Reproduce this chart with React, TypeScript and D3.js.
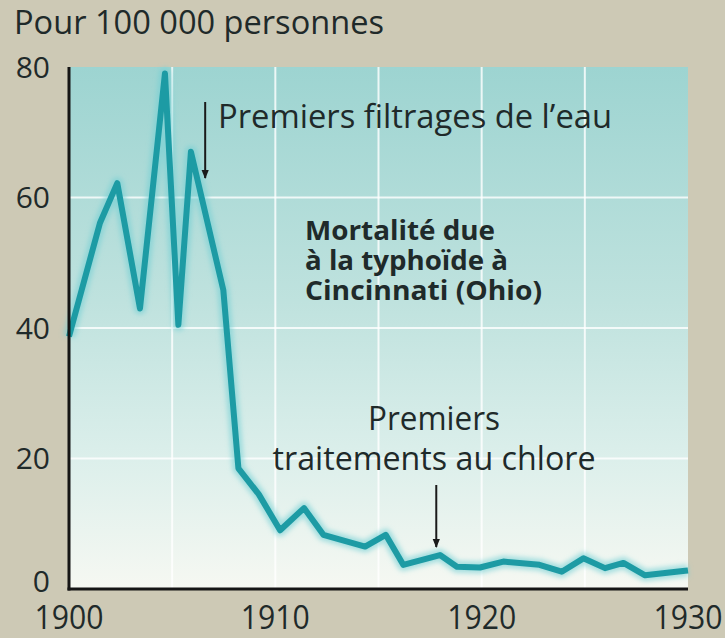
import React, { useEffect } from "react";
import * as d3 from "d3";

const years = [1900, 1901.5, 1902.34, 1903.44, 1904.65, 1905.3, 1905.91, 1907.48, 1908.21, 1909.2, 1910.23, 1911.39, 1912.33, 1914.35, 1915.35, 1916.2, 1917.98, 1918.8, 1919.92, 1921.05, 1922.8, 1923.88, 1924.93, 1925.98, 1926.87, 1927.92, 1929.86, 1930];
const mortality = [38.7, 56.1, 62.2, 43.0, 79.0, 40.5, 67.0, 45.8, 18.5, 14.5, 9.0, 12.4, 8.3, 6.5, 8.3, 3.7, 5.2, 3.4, 3.3, 4.2, 3.7, 2.65, 4.7, 3.2, 4.0, 2.1, 2.8, 2.85];
const yTicks = [0, 20, 40, 60, 80];
const xTicks = [1900, 1910, 1920, 1930];
const xGrid = [1905, 1910, 1915, 1920, 1925];
const yGrid = [20, 40, 60];
const unitLabel = "Pour 100 000 personnes";
const titleLines = ["Mortalité due", "à la typhoïde à", "Cincinnati (Ohio)"];
const filtrageLabel = "Premiers filtrages de l’eau";
const filtrageYear = 1906.6;
const chloreLines = ["Premiers", "traitements au chlore"];
const chloreYear = 1917.8;

const W = 725;
const H = 638;
const FONT = "'Open Sans', 'Noto Sans', sans-serif";
const TEXT = "#1f2a2a";

export default function App() {
  useEffect(() => {
    document.body.style.margin = "0";
  }, []);

  const x = d3.scaleLinear().domain([1900, 1930]).range([69, 688]);
  const y = d3.scaleLinear().domain([0, 80]).range([589, 67]);
  const pts = years.map((yr, i) => [yr, mortality[i]] as [number, number]);
  const line = d3
    .line<[number, number]>()
    .x((d) => x(d[0]))
    .y((d) => y(d[1]));
  const path = line(pts) || "";

  const ax1 = x(filtrageYear);
  const ax2 = x(chloreYear);

  return (
    <svg
      width={W}
      height={H}
      style={{ position: "absolute", left: 0, top: 0, display: "block" }}
    >
      <defs>
        <linearGradient id="plotBg" x1="0" y1="0" x2="0" y2="1">
          <stop offset="0%" stopColor="#9dd4d1" />
          <stop offset="45%" stopColor="#bfe2de" />
          <stop offset="75%" stopColor="#dcefeb" />
          <stop offset="100%" stopColor="#f6f8f2" />
        </linearGradient>
        <filter id="glow" x="-10%" y="-10%" width="120%" height="120%">
          <feGaussianBlur stdDeviation="2.5" />
        </filter>
        <marker
          id="arrow"
          viewBox="0 0 10 10"
          refX="9"
          refY="5"
          markerWidth="5"
          markerHeight="4.5"
          orient="auto"
          markerUnits="strokeWidth"
        >
          <path d="M0,1 L10,5 L0,9 Z" fill="#1a1a1a" />
        </marker>
      </defs>
      <rect x={0} y={0} width={W} height={H} fill="#cdc9b5" />
      <rect
        x={x(1900)}
        y={y(80)}
        width={x(1930) - x(1900)}
        height={y(0) - y(80)}
        fill="url(#plotBg)"
      />
      {xGrid.map((g) => (
        <line
          key={"xg" + g}
          x1={x(g)}
          x2={x(g)}
          y1={y(80)}
          y2={y(0)}
          stroke="#ffffff"
          strokeOpacity={0.8}
          strokeWidth={2}
        />
      ))}
      {yGrid.map((g) => (
        <line
          key={"yg" + g}
          x1={x(1900)}
          x2={x(1930)}
          y1={y(g)}
          y2={y(g)}
          stroke="#ffffff"
          strokeOpacity={0.8}
          strokeWidth={2}
        />
      ))}

      <path
        d={path}
        fill="none"
        stroke="#6fcfd3"
        strokeWidth={12}
        strokeOpacity={0.6}
        strokeLinejoin="round"
        filter="url(#glow)"
      />
      <path
        d={path}
        fill="none"
        stroke="#1d9ba4"
        strokeWidth={6}
        strokeLinejoin="round"
        strokeLinecap="butt"
      />

      <line x1={x(1900)} x2={x(1900)} y1={y(80)} y2={y(0) + 1.5} stroke="#151515" strokeWidth={3} />
      <line x1={x(1900) - 1.5} x2={x(1930)} y1={y(0)} y2={y(0)} stroke="#151515" strokeWidth={3} />

      {yTicks.map((t) => (
        <text
          key={"yt" + t}
          x={50}
          y={y(t) + (t === 0 ? -8 : 0)}
          dy="0.36em"
          textAnchor="end"
          fontFamily={FONT}
          fontSize={30}
          fill={TEXT}
        >
          {t}
        </text>
      ))}
      {xTicks.map((t) => (
        <text
          key={"xt" + t}
          x={x(t)}
          y={629}
          textAnchor="middle"
          fontFamily={FONT}
          fontSize={33}
          fill={TEXT}
          textLength={69}
          lengthAdjust="spacingAndGlyphs"
        >
          {t}
        </text>
      ))}

      <text
        x={14}
        y={34}
        fontFamily={FONT}
        fontSize={32}
        fill={TEXT}
        textLength={370}
        lengthAdjust="spacingAndGlyphs"
      >
        {unitLabel}
      </text>

      <line
        x1={ax1}
        x2={ax1}
        y1={102}
        y2={178}
        stroke="#1a1a1a"
        strokeWidth={2}
        markerEnd="url(#arrow)"
      />
      <text
        x={218}
        y={128}
        fontFamily={FONT}
        fontSize={33}
        fill={TEXT}
        textLength={394}
        lengthAdjust="spacingAndGlyphs"
      >
        {filtrageLabel}
      </text>

      {titleLines.map((l, i) => (
        <text
          key={"tl" + i}
          x={305}
          y={240 + i * 30}
          fontFamily={FONT}
          fontWeight={700}
          fontSize={26}
          fill={TEXT}
          textLength={[190, 203, 237][i]}
          lengthAdjust="spacingAndGlyphs"
        >
          {l}
        </text>
      ))}

      {chloreLines.map((l, i) => (
        <text
          key={"cl" + i}
          x={434}
          y={430 + i * 40}
          textAnchor="middle"
          fontFamily={FONT}
          fontSize={33}
          fill={TEXT}
          textLength={[132, 323][i]}
          lengthAdjust="spacingAndGlyphs"
        >
          {l}
        </text>
      ))}
      <line
        x1={ax2}
        x2={ax2}
        y1={485}
        y2={547}
        stroke="#1a1a1a"
        strokeWidth={2}
        markerEnd="url(#arrow)"
      />
    </svg>
  );
}
